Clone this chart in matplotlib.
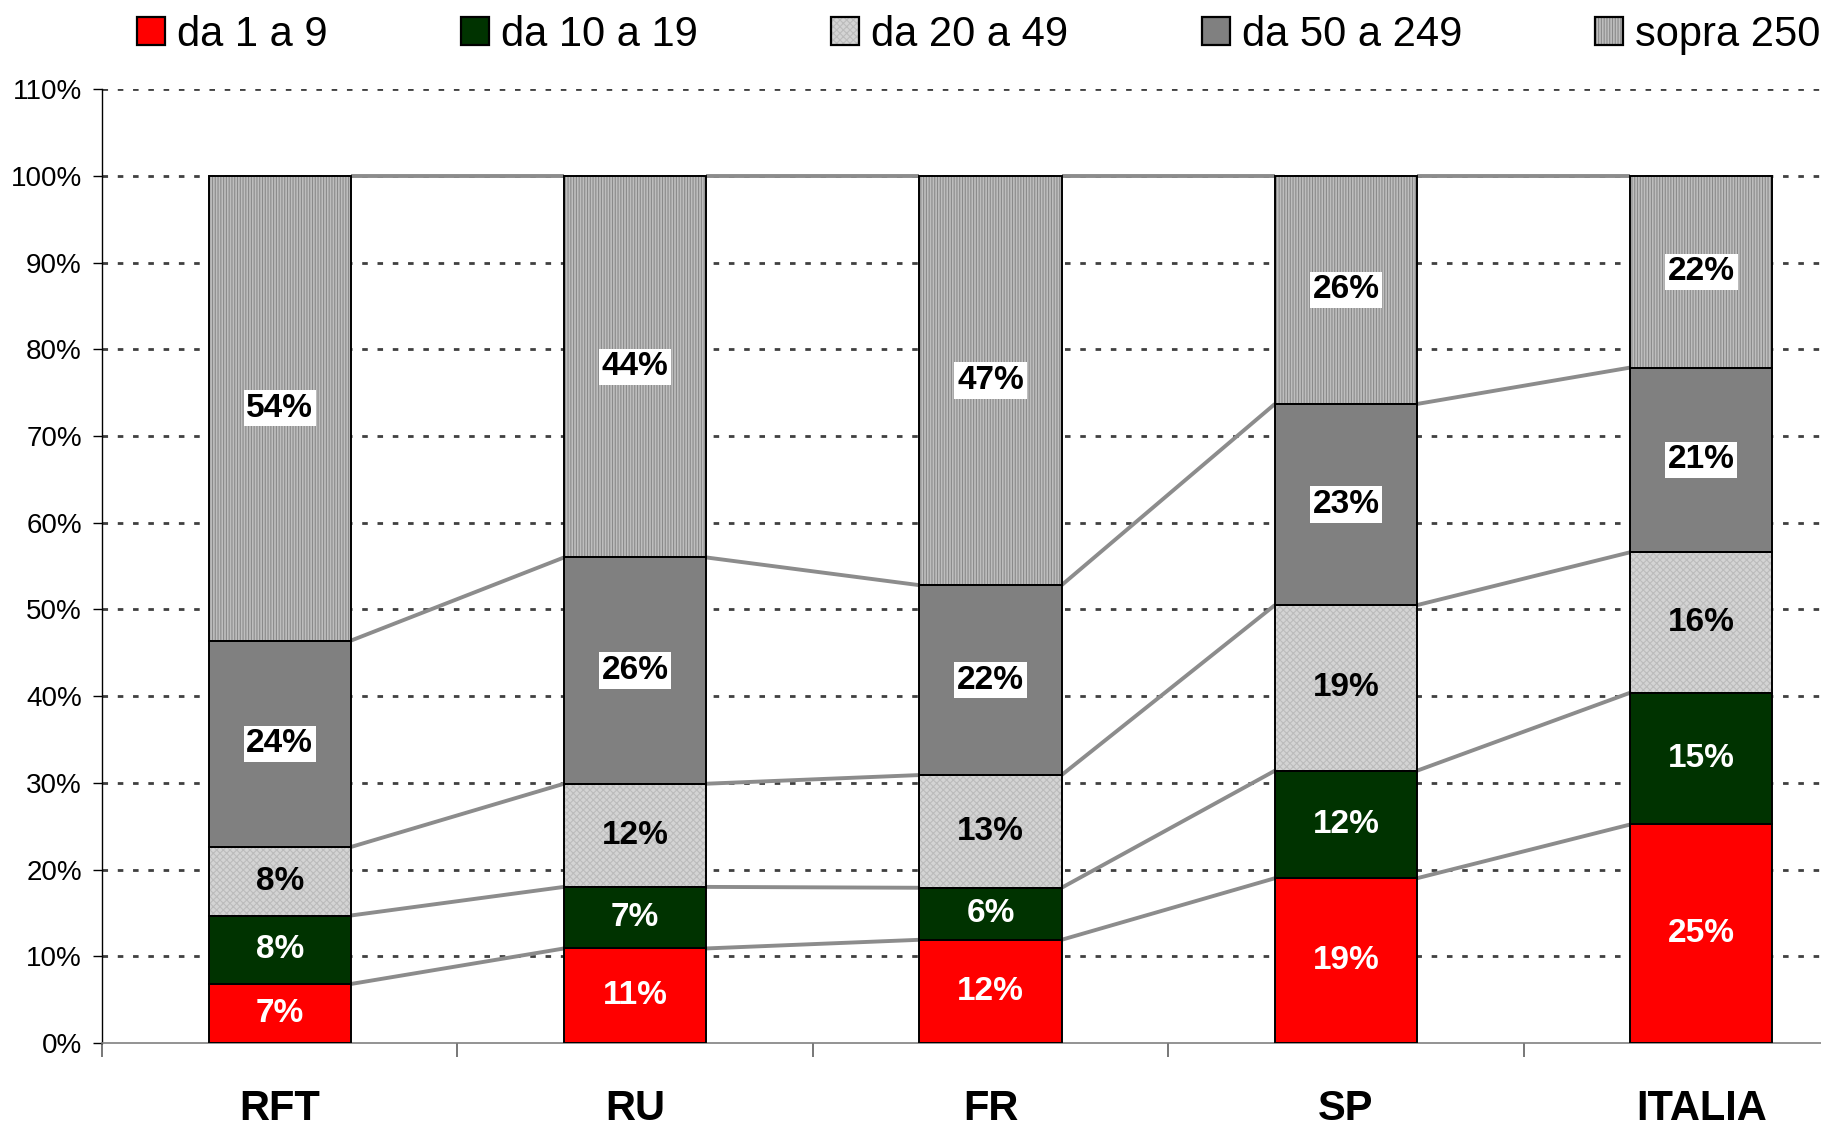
import numpy as np
import matplotlib
matplotlib.use("Agg")
import matplotlib.pyplot as plt
from matplotlib.patches import Patch

plt.rcParams['font.family'] = ['Liberation Sans', 'DejaVu Sans']
plt.rcParams['hatch.linewidth'] = 0.8

countries = ["RFT", "RU", "FR", "SP", "ITALIA"]
classes = ["da 1 a 9", "da 10 a 19", "da 20 a 49", "da 50 a 249", "sopra 250"]

# share of employees (%) by company size class
da_1_9 = [6.8, 10.9, 11.9, 19.0, 25.2]
da_10_19 = [7.9, 7.1, 6.0, 12.4, 15.2]
da_20_49 = [7.9, 11.9, 13.0, 19.1, 16.2]
da_50_249 = [23.8, 26.1, 21.9, 23.2, 21.3]
sopra_250 = [53.6, 44.0, 47.2, 26.3, 22.1]

yticks = list(range(0, 111, 10))

series = [da_1_9, da_10_19, da_20_49, da_50_249, sopra_250]
# face colour, hatch, hatch colour, label colour, white box behind label
styles = [
    ("#FF0000", None, "#FF0000", "white", False),
    ("#003300", None, "#003300", "white", False),
    ("#D4D4D4", "xxxxx", "#BCBCBC", "black", False),
    ("#808080", None, "#808080", "black", True),
    ("#BEBEBE", "||||||", "#8A8A8A", "black", True),
]

fig = plt.figure(figsize=(18.21, 11.24), dpi=100)
ax = fig.add_axes([0.056, 0.0721, 0.9759, 0.8485])

x = np.arange(len(countries))
width = 0.4
bottom = np.zeros(len(countries))
handles = []
for vals, (fc, hatch, hc, tc, box) in zip(series, styles):
    vals = np.array(vals)
    ax.bar(x, vals, width, bottom=bottom, color=fc, hatch=hatch,
           edgecolor=hc, linewidth=0, zorder=3)
    ax.bar(x, vals, width, bottom=bottom, fill=False,
           edgecolor="black", linewidth=1.4, zorder=4)
    for xi, b, v in zip(x, bottom, vals):
        kw = {}
        if box:
            kw["bbox"] = dict(boxstyle="square,pad=0.08", fc="white", ec="none")
        ax.text(xi, b + v / 2, f"{v:.0f}%", ha="center", va="center",
                fontsize=24, fontweight="bold", color=tc, zorder=5, **kw)
    bottom = bottom + vals
    # series lines joining the segment tops of neighbouring bars
    for i in range(len(countries) - 1):
        ax.plot([x[i] + width / 2, x[i + 1] - width / 2], [bottom[i], bottom[i + 1]],
                color="#8C8C8C", linewidth=2.8, zorder=2, solid_capstyle="butt")
    handles.append((Patch(facecolor=fc, hatch=hatch, edgecolor=hc, linewidth=0),
                    Patch(fill=False, edgecolor="black", linewidth=1.6)))

ax.set_xlim(-0.5, len(countries) - 0.5)
ax.set_ylim(0, 110)
ax.set_yticks(yticks)
ax.set_yticklabels([f"{t}%" for t in yticks], fontsize=20)
ax.set_xticks(x)
ax.set_xticklabels(countries, fontsize=30, fontweight="bold")
ax.set_xticks(np.arange(-0.5, len(countries)), minor=True)
ax.tick_params(axis="x", which="major", length=0, pad=33)
ax.tick_params(axis="x", which="minor", length=10, width=1.2, color="#606060")
ax.tick_params(axis="y", length=6.5, width=1, pad=8)

for t in yticks[1:]:
    ax.axhline(t, color="#404040", linewidth=2.0, linestyle=(0, (2.0, 3.5)), zorder=1)

for s in ["top", "right"]:
    ax.spines[s].set_visible(False)
ax.spines["left"].set_color("black")
ax.spines["left"].set_linewidth(1)
ax.spines["bottom"].set_color("#808080")
ax.spines["bottom"].set_linewidth(1.2)

fig.legend(handles, classes, loc="upper left", bbox_to_anchor=(137 / 1821, 1 - 15 / 1124),
           ncol=5, frameon=False, fontsize=30, handlelength=0.67, handleheight=0.65,
           handletextpad=0.29, columnspacing=3.2, borderpad=0, borderaxespad=0)

fig.savefig("out.png", dpi=100)
